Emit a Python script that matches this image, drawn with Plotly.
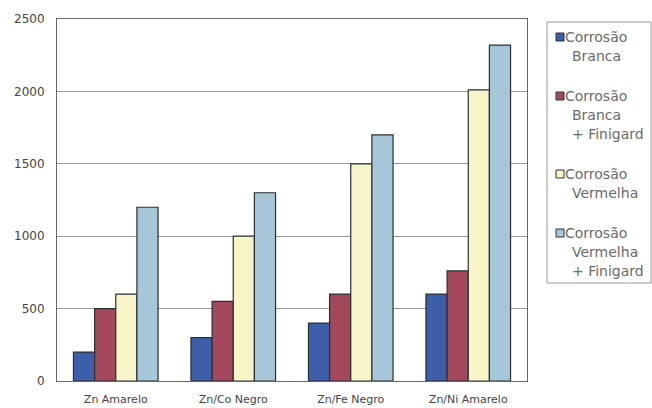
import plotly.graph_objects as go

categories = ["Zn Amarelo", "Zn/Co Negro", "Zn/Fe Negro", "Zn/Ni Amarelo"]
series_names = [
    ["Corrosão", "Branca"],
    ["Corrosão", "Branca", "+ Finigard"],
    ["Corrosão", "Vermelha"],
    ["Corrosão", "Vermelha", "+ Finigard"],
]
corrosao_branca = [200, 300, 400, 600]
corrosao_branca_finigard = [500, 550, 600, 760]
corrosao_vermelha = [600, 1000, 1500, 2010]
corrosao_vermelha_finigard = [1200, 1300, 1700, 2320]
y_ticks = [0, 500, 1000, 1500, 2000, 2500]

colors = ["#3d5ea8", "#a4485e", "#f8f5c9", "#a8c6d9"]
values = [corrosao_branca, corrosao_branca_finigard, corrosao_vermelha, corrosao_vermelha_finigard]

W, H = 652, 408
L, R, T, B = 57, 125, 19, 27
PW, PH = W - L - R, H - T - B


def px_x(px):
    return (px - L) / PW


def px_y(py):
    return (H - B - py) / PH


fig = go.Figure()
for lines, vals, col in zip(series_names, values, colors):
    fig.add_trace(go.Bar(
        x=categories, y=vals, name=" ".join(lines),
        marker=dict(color=col, line=dict(color="#2a2f33", width=1.2)),
    ))

# legend drawn as box + squares + text lines
shapes = [dict(type="rect", xref="paper", yref="paper",
               x0=px_x(547), x1=px_x(651), y0=px_y(283), y1=px_y(22),
               line=dict(color="#999", width=1), fillcolor="white", layer="below")]
annotations = []
line_h = 19
entry_gap = 21
y_cur = 37
for lines, col in zip(series_names, colors):
    shapes.append(dict(type="rect", xref="paper", yref="paper",
                       x0=px_x(556), x1=px_x(564), y0=px_y(y_cur + 4), y1=px_y(y_cur - 4),
                       line=dict(color="#333", width=1), fillcolor=col))
    for i, txt in enumerate(lines):
        annotations.append(dict(
            xref="paper", yref="paper", x=px_x(563 if i == 0 else 570), y=px_y(y_cur),
            xanchor="left", yanchor="middle", showarrow=False, text=txt,
            font=dict(family="DejaVu Sans", size=14, color="#6a6a6a"),
        ))
        y_cur += line_h
    y_cur += entry_gap

fig.update_layout(
    width=W, height=H,
    margin=dict(l=L, r=R, t=T, b=B),
    paper_bgcolor="white", plot_bgcolor="white",
    barmode="group", bargap=0.28, bargroupgap=0,
    font=dict(family="DejaVu Sans", size=12, color="#444"),
    showlegend=False,
    shapes=shapes, annotations=annotations,
)
fig.update_xaxes(showline=True, linecolor="#666", linewidth=1, mirror=True, automargin=False,
                 ticks="", ticklabelstandoff=8, tickfont=dict(size=11, color="#444"))
fig.update_yaxes(range=[0, 2500], tickvals=y_ticks, showgrid=True, gridcolor="#999",
                 gridwidth=1, showline=True, linecolor="#666", linewidth=1, mirror=True,
                 automargin=False, ticks="", ticklabelstandoff=9,
                 tickfont=dict(size=12, color="#444"), zeroline=False)

fig.write_html("out.html")
